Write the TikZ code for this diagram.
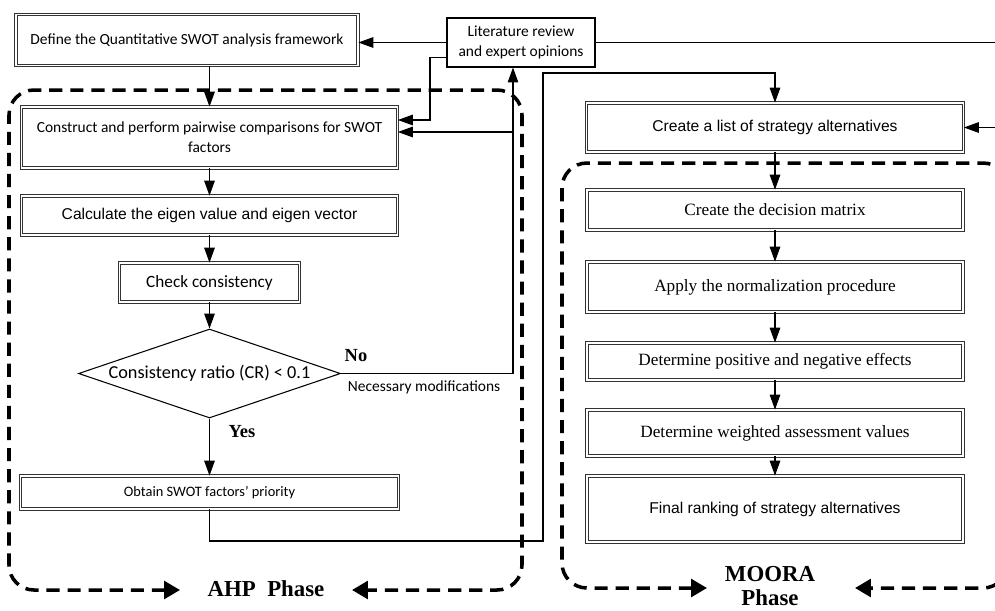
\documentclass[tikz,border=0pt]{standalone}
\usepackage{fontspec}
\setmainfont{Liberation Serif}
\newfontfamily\calfont{Carlito}
\newfontfamily\arialfont{Liberation Sans}
\usepackage{tikz}
\usetikzlibrary{arrows.meta,shapes.geometric,positioning,calc}

\begin{document}
\begin{tikzpicture}[
    x=0.02cm, y=-0.02cm,
    stepbox/.style={draw=black!80, double, double distance=1pt, line width=0.45pt, inner sep=0pt, align=center},
    plainbox/.style={draw, line width=0.6pt, inner sep=0pt, align=center},
    decision/.style={draw, diamond, line width=0.6pt, inner sep=0pt, aspect=2.9},
    arr/.style={-{Triangle[length=8.5pt,width=6pt]}, line width=0.6pt},
    phasebox/.style={line width=2pt, dash pattern=on 7.5pt off 4.5pt, rounded corners=0.5cm,
        {Triangle[length=9pt,width=10pt]}-{Triangle[length=9pt,width=10pt]}},
    phaselbl/.style={font=\bfseries\fontsize{13}{13.6}\selectfont, align=center, inner sep=0pt},
    answer/.style={font=\bfseries\fontsize{10.5}{12}\selectfont, inner sep=0pt},
    calsz/.style={font=\calfont\fontsize{8.8}{11.4}\selectfont},
    arialsz/.style={font=\arialfont\fontsize{8.9}{11}\selectfont},
    timessz/.style={font=\fontsize{9.8}{11.5}\selectfont}
]
\useasboundingbox (0,0) rectangle (995,610);
\clip (0,0) rectangle (995,610);

% AHP side
\node[stepbox, calsz, minimum width=6.84cm, minimum height=1.02cm] (define) at (187,40) {Define the Quantitative SWOT analysis framework};
\node[plainbox, calsz, minimum width=2.96cm, minimum height=0.98cm] (lit) at (521,42.5) {Literature review\\and expert opinions};
\node[stepbox, calsz, minimum width=7.52cm, minimum height=1.22cm] (cons) at (209.5,137.5) {Construct and perform pairwise comparisons for SWOT\\factors};
\node[stepbox, arialsz, minimum width=7.52cm, minimum height=0.78cm] (calc) at (209.5,215.5) {Calculate the eigen value and eigen vector};
\node[stepbox, font=\calfont\fontsize{9.8}{11}\selectfont, minimum width=3.6cm, minimum height=0.78cm] (check) at (209.5,282.5) {Check consistency};
\node[decision, font=\calfont\fontsize{10.4}{12}\selectfont, minimum width=5.24cm, minimum height=1.78cm] (cr) at (209.5,373.5) {Consistency ratio (CR) < 0.1};
\node[stepbox, font=\calfont\fontsize{8.2}{10}\selectfont, minimum width=7.56cm, minimum height=0.66cm] (prio) at (209.5,492.5) {Obtain SWOT factors’ priority};

% MOORA side
\node[stepbox, arialsz, minimum width=7.54cm, minimum height=0.98cm] (list) at (775,127.5) {Create a list of strategy alternatives};
\node[stepbox, timessz, minimum width=7.52cm, minimum height=0.8cm] (matrix) at (775,210) {Create the decision matrix};
\node[stepbox, timessz, minimum width=7.52cm, minimum height=1.0cm] (norm) at (775,287) {Apply the normalization procedure};
\node[stepbox, timessz, minimum width=7.52cm, minimum height=0.74cm] (effects) at (775,361.5) {Determine positive and negative effects};
\node[stepbox, timessz, minimum width=7.52cm, minimum height=0.92cm] (weighted) at (775,433) {Determine weighted assessment values};
\node[stepbox, arialsz, minimum width=7.52cm, minimum height=1.32cm] (rank) at (775,509) {Final ranking of strategy alternatives};

% labels
\node[answer] (no) at (356,356) {No};
\node[answer] (yes) at (242,432) {Yes};
\node[calsz, inner sep=0pt] (mods) at (424,387) {Necessary modifications};
\node[phaselbl] (ahp) at (266,589) {AHP\ \ Phase};
\node[phaselbl] (moora) at (770,586) {MOORA\\Phase};

% bend points
\coordinate (k1) at (430,120);
\coordinate (fb) at (513,132);
\coordinate (p1) at (543,541);
\coordinate (p2) at (543,73);
\coordinate (q1) at (1010,42);

% connectors
\draw[arr] (lit.west) -- (lit.west -| define.east);
\draw[arr] (define.south -| cons.north) -- (cons.north);
\draw[arr] ([yshift=-0.3cm]lit.west) -| (k1) -- (k1 -| cons.east);
\draw[arr] (cons) -- (calc);
\draw[arr] (calc) -- (check);
\draw[arr] (check) -- (cr);
\draw[arr] (cr) -- (prio);
\draw[arr] (cr.east) -| (lit.south -| fb);
\draw[arr] (fb) -- (fb -| cons.east);
\draw[arr] (prio.south) |- (p1) -- (p2) -| (list.north);
\draw[arr] (lit.east) -- (lit.east -| q1) |- (list.east);
\draw[arr] (list) -- (matrix);
\draw[arr] (matrix) -- (norm);
\draw[arr] (norm) -- (effects);
\draw[arr] (effects) -- (weighted);
\draw[arr] (weighted) -- (rank);

% phase frames
\draw[phasebox] (180,590) -| (9,90) -| (522,590) -- (352,590);
\draw[phasebox] (707,588) -| (562,163) -| (1008,588) -- (855,588);
\end{tikzpicture}
\end{document}
